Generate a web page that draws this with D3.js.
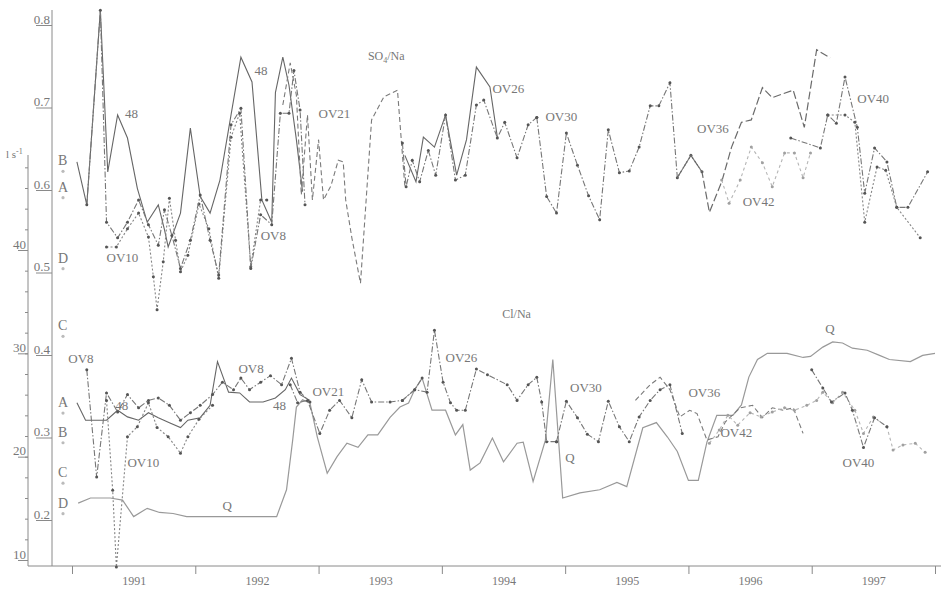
<!DOCTYPE html>
<html>
<head>
<meta charset="utf-8">
<script src="https://cdn.jsdelivr.net/npm/d3@7"></script>
<style>
body { margin: 0; background: #fff; }
svg text { font-family: "Liberation Serif", "DejaVu Serif", serif; fill: #777; }
</style>
</head>
<body>
<svg id="chart" width="941" height="589"></svg>
<script>
// dates are decimal years, ratios are SO4/Na or Cl/Na, Q is l/s

// --- SO4/Na panel
var so4_48 = [[1990.54,0.634],[1990.62,0.582],[1990.73,0.818],[1990.79,0.622],[1990.87,0.691],[1990.95,0.663],[1991.03,0.602],[1991.11,0.561],[1991.20,0.582],[1991.25,0.552],[1991.28,0.531],[1991.38,0.572],[1991.46,0.675],[1991.54,0.592],[1991.62,0.572],[1991.70,0.612],[1991.79,0.691],[1991.87,0.761],[1991.96,0.731],[1992.04,0.588],[1992.12,0.561],[1992.15,0.718],[1992.21,0.761],[1992.26,0.727],[1992.32,0.661],[1992.37,0.598]];
var so4_ov10 = [[1990.78,0.531],[1990.86,0.531],[1990.95,0.553],[1991.04,0.572],[1991.12,0.543],[1991.16,0.495],[1991.19,0.455],[1991.24,0.513],[1991.29,0.590],[1991.34,0.539],[1991.38,0.501],[1991.44,0.521],[1991.53,0.583],[1991.61,0.553],[1991.69,0.493],[1991.79,0.664],[1991.86,0.693],[1991.95,0.507],[1992.03,0.588],[1992.08,0.588]];
var so4_ov8 = [[1990.62,0.582],[1990.73,0.818],[1990.78,0.561],[1990.87,0.542],[1990.95,0.561],[1991.04,0.588],[1991.12,0.558],[1991.20,0.533],[1991.25,0.576],[1991.31,0.545],[1991.38,0.505],[1991.46,0.539],[1991.54,0.594],[1991.62,0.539],[1991.69,0.497],[1991.79,0.679],[1991.87,0.699],[1991.95,0.505],[1992.03,0.570],[1992.12,0.558],[1992.19,0.693],[1992.26,0.693],[1992.30,0.745],[1992.35,0.697],[1992.39,0.582]];
var so4_ov21 = [[1992.21,0.703],[1992.27,0.754],[1992.32,0.715],[1992.36,0.594],[1992.41,0.691],[1992.45,0.588],[1992.50,0.661],[1992.54,0.588],[1992.60,0.605],[1992.66,0.636],[1992.70,0.634],[1992.72,0.588],[1992.77,0.542],[1992.84,0.487],[1992.93,0.685],[1993.03,0.713],[1993.14,0.721],[1993.20,0.604]];
var so4_ov26 = [[1993.20,0.642],[1993.29,0.610],[1993.35,0.664],[1993.44,0.652],[1993.53,0.691],[1993.62,0.618],[1993.70,0.661],[1993.78,0.749],[1993.89,0.725],[1993.95,0.664]];
var so4_ov26b = [[1993.18,0.657],[1993.21,0.604],[1993.26,0.636],[1993.32,0.610],[1993.39,0.648],[1993.45,0.618],[1993.53,0.691],[1993.61,0.612],[1993.69,0.618],[1993.78,0.703],[1993.84,0.709],[1993.95,0.663],[1994.01,0.682],[1994.11,0.639],[1994.20,0.679],[1994.27,0.688]];
var so4_ov30 = [[1994.27,0.688],[1994.35,0.592],[1994.43,0.572],[1994.51,0.669],[1994.60,0.630],[1994.69,0.593],[1994.78,0.564],[1994.85,0.673],[1994.94,0.621],[1995.02,0.623],[1995.10,0.652],[1995.19,0.702],[1995.26,0.702],[1995.35,0.730],[1995.41,0.615],[1995.52,0.642],[1995.61,0.622]];
var so4_ov36 = [[1995.41,0.615],[1995.52,0.642],[1995.61,0.622],[1995.67,0.573],[1995.77,0.610],[1995.85,0.652],[1995.93,0.682],[1996.01,0.685],[1996.10,0.724],[1996.18,0.712],[1996.35,0.721],[1996.44,0.676],[1996.54,0.770],[1996.65,0.760]];
var so4_ov42 = [[1995.77,0.612],[1995.83,0.584],[1995.92,0.612],[1996.01,0.652],[1996.10,0.633],[1996.18,0.604],[1996.28,0.645],[1996.36,0.645],[1996.43,0.615],[1996.49,0.645]];
var so4_ov40 = [[1996.33,0.663],[1996.57,0.651],[1996.63,0.691],[1996.70,0.681],[1996.77,0.737],[1996.87,0.676],[1996.93,0.596],[1997.01,0.651],[1997.11,0.634],[1997.19,0.579],[1997.28,0.579],[1997.44,0.622]];
var so4_ov40b = [[1996.63,0.691],[1996.77,0.691],[1996.85,0.682],[1996.93,0.561],[1997.03,0.628],[1997.10,0.624],[1997.19,0.579],[1997.38,0.542]];

// --- Cl/Na panel
var cl_48 = [[1990.54,0.342],[1990.61,0.321],[1990.70,0.321],[1990.78,0.321],[1990.87,0.333],[1990.95,0.325],[1991.04,0.321],[1991.12,0.330],[1991.20,0.324],[1991.29,0.318],[1991.38,0.312],[1991.44,0.321],[1991.54,0.324],[1991.62,0.339],[1991.68,0.392],[1991.77,0.355],[1991.86,0.354],[1991.94,0.343],[1992.05,0.343],[1992.15,0.348],[1992.23,0.358],[1992.28,0.372],[1992.35,0.352],[1992.43,0.345]];
var cl_ov8 = [[1990.62,0.382],[1990.70,0.252],[1990.78,0.354],[1990.87,0.331],[1990.95,0.352],[1991.04,0.336],[1991.12,0.345],[1991.20,0.348],[1991.29,0.339],[1991.38,0.321],[1991.46,0.330],[1991.54,0.339],[1991.64,0.352],[1991.72,0.367],[1991.81,0.358],[1991.87,0.372],[1991.94,0.358],[1992.03,0.367],[1992.11,0.375],[1992.20,0.364],[1992.28,0.396],[1992.35,0.355],[1992.43,0.343]];
var cl_ov10 = [[1990.78,0.345],[1990.83,0.236],[1990.86,0.143],[1990.95,0.301],[1991.03,0.313],[1991.12,0.342],[1991.19,0.312],[1991.28,0.301],[1991.38,0.281],[1991.44,0.301],[1991.53,0.322],[1991.64,0.339]];
var cl_ov21 = [[1992.27,0.364],[1992.33,0.342],[1992.41,0.345],[1992.51,0.305],[1992.59,0.333],[1992.67,0.345],[1992.77,0.324],[1992.85,0.370],[1992.93,0.343],[1993.08,0.343],[1993.18,0.345],[1993.28,0.358],[1993.34,0.372]];
var cl_ov26 = [[1993.18,0.345],[1993.28,0.358],[1993.38,0.355],[1993.44,0.430],[1993.51,0.367],[1993.57,0.342],[1993.62,0.333],[1993.69,0.333],[1993.78,0.383],[1993.87,0.376],[1994.03,0.364],[1994.11,0.345],[1994.20,0.364],[1994.27,0.373],[1994.31,0.343],[1994.35,0.295],[1994.43,0.295]];
var cl_ov30 = [[1994.43,0.295],[1994.51,0.344],[1994.60,0.324],[1994.68,0.304],[1994.77,0.295],[1994.85,0.344],[1994.94,0.313],[1995.02,0.295],[1995.10,0.325],[1995.19,0.345],[1995.27,0.358],[1995.35,0.364],[1995.45,0.305]];
var cl_ov36 = [[1995.07,0.345],[1995.19,0.364],[1995.27,0.373],[1995.35,0.358],[1995.43,0.325],[1995.51,0.333],[1995.57,0.329],[1995.65,0.297],[1995.74,0.301],[1995.80,0.319],[1995.92,0.336],[1996.02,0.339],[1996.10,0.324],[1996.18,0.336],[1996.27,0.333],[1996.35,0.336],[1996.43,0.305]];
var cl_ov42 = [[1995.67,0.293],[1995.75,0.309],[1995.82,0.327],[1995.90,0.315],[1996.00,0.330],[1996.09,0.325],[1996.18,0.331],[1996.28,0.336],[1996.36,0.333],[1996.46,0.339],[1996.54,0.345],[1996.59,0.355],[1996.67,0.342],[1996.75,0.355],[1996.85,0.333],[1996.92,0.305],[1997.00,0.325],[1997.11,0.313],[1997.16,0.285],[1997.24,0.291],[1997.34,0.293],[1997.42,0.282]];
var cl_ov40 = [[1996.50,0.382],[1996.59,0.360],[1996.66,0.343],[1996.77,0.354],[1996.83,0.333],[1996.92,0.288],[1997.01,0.324],[1997.11,0.313]];

// --- discharge Q (l/s)
var q_flow = [[1990.55,15.5],[1990.65,16.0],[1990.81,16.0],[1990.91,15.8],[1991.00,14.2],[1991.11,15.0],[1991.21,14.6],[1991.32,14.5],[1991.43,14.2],[1991.59,14.2],[1991.81,14.2],[1992.02,14.2],[1992.16,14.2],[1992.24,16.8],[1992.29,21.6],[1992.32,24.8],[1992.37,25.5],[1992.43,25.2],[1992.49,21.9],[1992.57,18.4],[1992.65,20.0],[1992.73,21.3],[1992.82,20.9],[1992.90,22.1],[1992.98,22.1],[1993.08,23.8],[1993.16,24.8],[1993.23,25.2],[1993.28,26.5],[1993.34,27.6],[1993.42,24.5],[1993.53,24.5],[1993.61,22.1],[1993.67,23.1],[1993.73,18.7],[1993.81,19.4],[1993.91,21.8],[1994.00,19.5],[1994.11,21.3],[1994.16,21.4],[1994.24,17.6],[1994.34,21.6],[1994.40,29.4],[1994.48,16.0],[1994.62,16.5],[1994.78,16.8],[1994.92,17.5],[1995.00,17.1],[1995.13,22.8],[1995.24,23.3],[1995.33,21.9],[1995.41,20.5],[1995.50,17.7],[1995.58,17.7],[1995.65,21.4],[1995.73,24.0],[1995.86,24.0],[1995.93,25.0],[1995.99,27.7],[1996.06,29.4],[1996.14,30.0],[1996.30,30.0],[1996.43,29.6],[1996.49,29.7],[1996.59,30.6],[1996.67,31.1],[1996.75,31.0],[1996.83,30.5],[1996.95,30.3],[1997.05,29.8],[1997.13,29.4],[1997.30,29.2],[1997.40,29.8],[1997.50,30.0]];

// site letters on the left edge
var so4_sites = [["B",0.636],["A",0.604],["D",0.518],["C",0.436]];
var cl_sites = [["A",0.343],["B",0.307],["C",0.258],["D",0.221]];

var years = [1991, 1992, 1993, 1994, 1995, 1996, 1997];
var halfYears = [1990.5, 1991.5, 1992.5, 1993.5, 1994.5, 1995.5, 1996.5, 1997.5];
var ratioTicks = [0.2, 0.3, 0.4, 0.5, 0.6, 0.7, 0.8];
var qTicks = [10, 20, 30, 40];

// series labels: text, date, ratio
var labels = [
    ["48", 1990.93, 0.687], ["48", 1991.98, 0.739], ["OV10", 1990.78, 0.513], ["OV8", 1992.03, 0.539],
    ["OV21", 1992.50, 0.687], ["OV26", 1993.91, 0.718], ["OV30", 1994.34, 0.684], ["OV36", 1995.57, 0.669],
    ["OV42", 1995.94, 0.581], ["OV40", 1996.87, 0.705],
    ["OV8", 1990.47, 0.390], ["48", 1990.85, 0.333], ["OV10", 1990.95, 0.264], ["Q", 1991.72, 0.212],
    ["OV8", 1991.85, 0.378], ["48", 1992.13, 0.333], ["OV21", 1992.45, 0.350], ["OV26", 1993.53, 0.392],
    ["OV30", 1994.54, 0.355], ["Q", 1994.50, 0.270], ["OV36", 1995.50, 0.349], ["OV42", 1995.76, 0.301],
    ["OV40", 1996.75, 0.264], ["Q", 1996.61, 0.427]
];

var svg = d3.select("#chart");

var x = d3.scaleLinear().domain([1990.5, 1997.5]).range([72, 935]);
var yR = d3.scaleLinear().domain([0.2, 0.8]).range([520, 25]);
var yQ = d3.scaleLinear().domain([10, 40]).range([560, 250]);

var axisColor = "#8a8a8a";

// x axis
svg.append("line").attr("x1", 28).attr("x2", 941).attr("y1", 566).attr("y2", 566)
    .attr("stroke", axisColor).attr("stroke-width", 1);

var xg = svg.append("g").attr("transform", "translate(0,566)")
    .call(d3.axisBottom(x).tickValues(halfYears).tickSize(8).tickFormat(""));
xg.select(".domain").remove();
xg.selectAll("line").attr("stroke", axisColor);

var xl = svg.append("g").attr("transform", "translate(0,566)")
    .call(d3.axisBottom(x).tickValues(years).tickSize(0).tickPadding(10).tickFormat(d3.format("d")));
xl.select(".domain").remove();
xl.selectAll("text").attr("font-size", 12).attr("fill", "#888");

// Q axis (outer)
svg.append("line").attr("x1", 28).attr("x2", 28).attr("y1", 155).attr("y2", 566)
    .attr("stroke", axisColor);
var qMinor = svg.append("g").attr("transform", "translate(28,0)")
    .call(d3.axisLeft(yQ).tickValues(d3.range(10, 50, 2)).tickSize(3).tickFormat(""));
qMinor.select(".domain").remove();
qMinor.selectAll("line").attr("stroke", axisColor);
var qg = svg.append("g").attr("transform", "translate(28,0)")
    .call(d3.axisLeft(yQ).tickValues(qTicks).tickSize(10).tickPadding(-8));
qg.select(".domain").remove();
qg.selectAll("line").attr("stroke", axisColor);
qg.selectAll("text").attr("dy", "-0.15em").attr("font-size", 13).attr("fill", "#777");

var unit = svg.append("text").attr("x", 6).attr("y", 158).attr("font-size", 11);
unit.append("tspan").text("l s");
unit.append("tspan").attr("dy", -4).attr("font-size", 8).text("-1");

// ratio axis (inner)
svg.append("line").attr("x1", 52).attr("x2", 52).attr("y1", 10).attr("y2", 566)
    .attr("stroke", axisColor);
var rg = svg.append("g").attr("transform", "translate(52,0)")
    .call(d3.axisLeft(yR).tickValues(ratioTicks).tickSize(16).tickPadding(-14).tickFormat(d3.format(".1f")));
rg.select(".domain").remove();
rg.selectAll("line").attr("stroke", axisColor);
rg.selectAll("text").attr("dy", "-0.15em").attr("font-size", 13).attr("fill", "#777");

// line styles
var styles = {
    solid:   { dash: null,        color: "#666",    width: 1.1, dots: false },
    dashdot: { dash: "6,2,1.5,2", color: "#777",    width: 1.1, dots: true },
    dotted:  { dash: "2,2",       color: "#858585", width: 1.1, dots: true },
    dashed:  { dash: "5,3",       color: "#7a7a7a", width: 1.1, dots: false },
    longdash:{ dash: "8,3",       color: "#6a6a6a", width: 1.2, dots: false },
    light:   { dash: "3,3",       color: "#b5b5b5", width: 1.1, dots: true },
    q:       { dash: null,        color: "#999",    width: 1.2, dots: false }
};

var ratioSeries = [
    [so4_48, "solid"], [so4_ov10, "dotted"], [so4_ov8, "dashdot"], [so4_ov21, "dashed"],
    [so4_ov26, "solid"], [so4_ov26b, "dashdot"], [so4_ov30, "dashdot"], [so4_ov36, "longdash"],
    [so4_ov42, "light"], [so4_ov40, "dashdot"], [so4_ov40b, "dotted"],
    [cl_48, "solid"], [cl_ov8, "dashdot"], [cl_ov10, "dotted"], [cl_ov21, "dashdot"],
    [cl_ov26, "dashdot"], [cl_ov30, "dashdot"], [cl_ov36, "dashed"], [cl_ov42, "light"],
    [cl_ov40, "dashdot"]
];

var ratioLine = d3.line().x(function (d) { return x(d[0]); }).y(function (d) { return yR(d[1]); });
var qLine = d3.line().x(function (d) { return x(d[0]); }).y(function (d) { return yQ(d[1]); });

svg.append("path").datum(q_flow).attr("d", qLine)
    .attr("fill", "none").attr("stroke", styles.q.color).attr("stroke-width", styles.q.width);

ratioSeries.forEach(function (s) {
    var st = styles[s[1]];
    svg.append("path").datum(s[0]).attr("d", ratioLine)
        .attr("fill", "none")
        .attr("stroke", st.color)
        .attr("stroke-width", st.width)
        .attr("stroke-dasharray", st.dash);
    if (st.dots) {
        svg.append("g").selectAll("circle").data(s[0]).enter().append("circle")
            .attr("cx", function (d) { return x(d[0]); })
            .attr("cy", function (d) { return yR(d[1]); })
            .attr("r", 1.5)
            .attr("fill", s[1] == "light" ? "#a0a0a0" : "#555");
    }
});

// series labels
svg.append("g").selectAll("text").data(labels).enter().append("text")
    .attr("x", function (d) { return x(d[1]); })
    .attr("y", function (d) { return yR(d[2]); })
    .attr("font-size", 13)
    .text(function (d) { return d[0]; });

// panel titles
var t1 = svg.append("text").attr("x", x(1992.9)).attr("y", yR(0.758)).attr("font-size", 12);
t1.append("tspan").text("SO");
t1.append("tspan").attr("dy", 3).attr("font-size", 8).text("4");
t1.append("tspan").attr("dy", -3).text("/Na");
svg.append("text").attr("x", x(1993.99)).attr("y", yR(0.445)).attr("font-size", 12).text("Cl/Na");

// site letters with their small markers
[so4_sites, cl_sites].forEach(function (sites) {
    var g = svg.append("g");
    g.selectAll("text").data(sites).enter().append("text")
        .attr("x", 58).attr("y", function (d) { return yR(d[1]) + 5; })
        .attr("font-size", 14).attr("fill", "#808080")
        .text(function (d) { return d[0]; });
    g.selectAll("circle").data(sites).enter().append("circle")
        .attr("cx", 63).attr("cy", function (d) { return yR(d[1]) + 11; })
        .attr("r", 1.6).attr("fill", "#bbb");
});
</script>
</body>
</html>
